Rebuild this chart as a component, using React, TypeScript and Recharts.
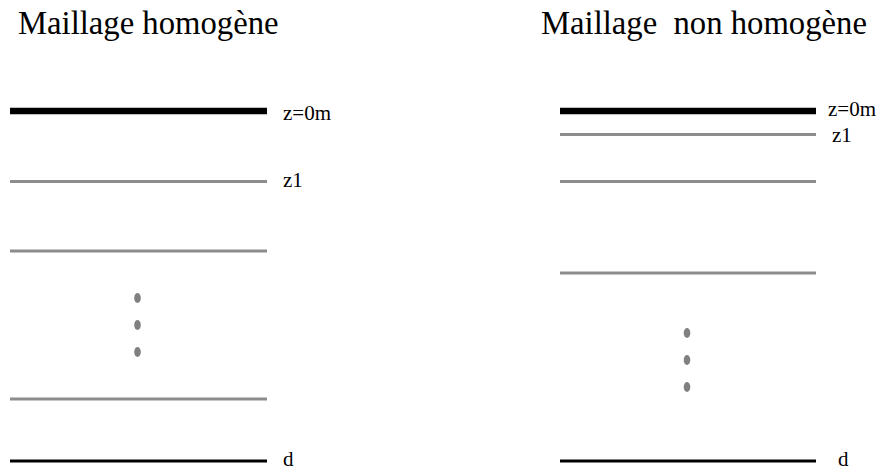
import React from "react";
import { ComposedChart, XAxis, YAxis, Line, Scatter } from "recharts";

// mesh levels (depth, chart units = px from top of figure)
const homogeneLevels = [111, 181.5, 251, 399, 461];
const nonHomogeneLevels = [111, 134.5, 181.5, 273, 461];

// horizontal extent of each panel's lines
const homogeneSpan = [10, 267];
const nonHomogeneSpan = [560, 816];

// "..." markers between levels
const homogeneDots = [298, 325, 352];
const nonHomogeneDots = [333, 360, 387];

const titles = [
  { x: 18, y: 34, text: "Maillage homogène" },
  { x: 541, y: 34, text: "Maillage  non homogène" },
];

const levelLabels = [
  { x: 283, y: 120, text: "z=0m" },
  { x: 283, y: 187, text: "z1" },
  { x: 283, y: 465.5, text: "d" },
  { x: 828, y: 116, text: "z=0m" },
  { x: 832, y: 142, text: "z1" },
  { x: 838, y: 465.5, text: "d" },
];

const W = 881;
const H = 470;

const levelStyle = (i: number, n: number) => {
  if (i === 0) return { stroke: "#000", strokeWidth: 6.5 };
  if (i === n - 1) return { stroke: "#000", strokeWidth: 3.2 };
  return { stroke: "#8c8c8c", strokeWidth: 3 };
};

const toSegments = (levels: number[], span: number[]) =>
  levels.map((lvl) => [
    { x: span[0], y: lvl },
    { x: span[1], y: lvl },
  ]);

const Dot = (props: any) => (
  <ellipse cx={props.cx} cy={props.cy} rx={3.3} ry={5} fill="#808080" />
);

const makeText = (size: number) => (props: any) => (
  <text
    x={props.cx}
    y={props.cy}
    fontSize={size}
    fontFamily="Liberation Serif, Times New Roman, serif"
    fill="#000"
    style={{ whiteSpace: "pre" }}
  >
    {props.payload.text}
  </text>
);

export default function App() {
  const leftSegs = toSegments(homogeneLevels, homogeneSpan);
  const rightSegs = toSegments(nonHomogeneLevels, nonHomogeneSpan);
  const dots = [
    ...homogeneDots.map((y) => ({ x: 137.5, y })),
    ...nonHomogeneDots.map((y) => ({ x: 687, y })),
  ];

  return (
    <div style={{ position: "absolute", left: 0, top: 0, background: "#fff" }}>
      <ComposedChart
        width={W}
        height={H}
        margin={{ top: 0, right: 0, bottom: 0, left: 0 }}
      >
        <XAxis type="number" dataKey="x" domain={[0, W]} hide />
        <YAxis type="number" dataKey="y" domain={[0, H]} reversed hide />
        {leftSegs.map((seg, i) => (
          <Line
            key={"l" + i}
            data={seg}
            dataKey="y"
            dot={false}
            activeDot={false}
            isAnimationActive={false}
            {...levelStyle(i, leftSegs.length)}
          />
        ))}
        {rightSegs.map((seg, i) => (
          <Line
            key={"r" + i}
            data={seg}
            dataKey="y"
            dot={false}
            activeDot={false}
            isAnimationActive={false}
            {...levelStyle(i, rightSegs.length)}
          />
        ))}
        <Scatter data={dots} shape={Dot} isAnimationActive={false} />
        <Scatter data={titles} shape={makeText(32.7)} isAnimationActive={false} />
        <Scatter data={levelLabels} shape={makeText(21)} isAnimationActive={false} />
      </ComposedChart>
    </div>
  );
}
